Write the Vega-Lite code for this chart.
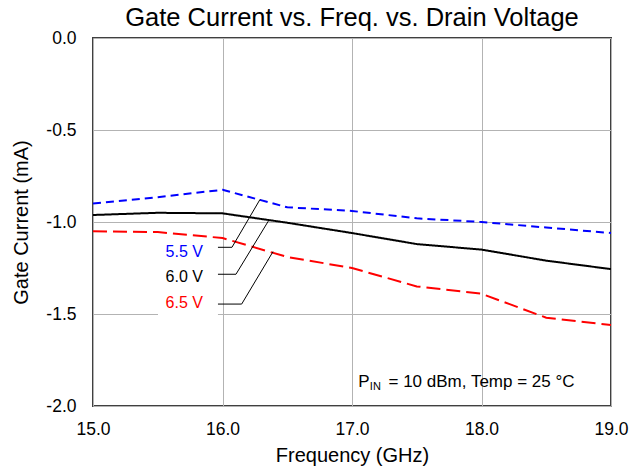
{
  "$schema": "https://vega.github.io/schema/vega-lite/v6.json",
  "width": 518,
  "height": 368,
  "autosize": "none",
  "padding": {"left": 93, "top": 38, "right": 31, "bottom": 61},
  "background": "white",
  "config": {
    "font": "Liberation Sans",
    "view": {"stroke": "#404040", "strokeWidth": 2},
    "axis": {
      "domain": false,
      "ticks": false,
      "grid": true,
      "gridColor": "#b3b3b3",
      "gridWidth": 1,
      "labelFont": "Liberation Sans",
      "labelFontSize": 17.5,
      "labelColor": "#000000",
      "titleFont": "Liberation Sans",
      "titleFontSize": 20,
      "titleFontWeight": "normal",
      "titleColor": "#000000"
    }
  },
  "title": {
    "text": "Gate Current vs. Freq. vs. Drain Voltage",
    "fontSize": 25.5,
    "fontWeight": "normal",
    "font": "Liberation Sans",
    "color": "#000000",
    "anchor": "middle",
    "offset": -2
  },
  "datasets": {
    "series": [
      {"freq": 15.0, "current": -0.90, "vd": "5.5 V"},
      {"freq": 15.5, "current": -0.865, "vd": "5.5 V"},
      {"freq": 16.0, "current": -0.825, "vd": "5.5 V"},
      {"freq": 16.5, "current": -0.92, "vd": "5.5 V"},
      {"freq": 17.0, "current": -0.94, "vd": "5.5 V"},
      {"freq": 17.5, "current": -0.98, "vd": "5.5 V"},
      {"freq": 18.0, "current": -1.0, "vd": "5.5 V"},
      {"freq": 18.5, "current": -1.03, "vd": "5.5 V"},
      {"freq": 19.0, "current": -1.06, "vd": "5.5 V"},
      {"freq": 15.0, "current": -0.962, "vd": "6.0 V"},
      {"freq": 15.5, "current": -0.95, "vd": "6.0 V"},
      {"freq": 16.0, "current": -0.953, "vd": "6.0 V"},
      {"freq": 16.5, "current": -1.004, "vd": "6.0 V"},
      {"freq": 17.0, "current": -1.06, "vd": "6.0 V"},
      {"freq": 17.5, "current": -1.12, "vd": "6.0 V"},
      {"freq": 18.0, "current": -1.15, "vd": "6.0 V"},
      {"freq": 18.5, "current": -1.21, "vd": "6.0 V"},
      {"freq": 19.0, "current": -1.256, "vd": "6.0 V"},
      {"freq": 15.0, "current": -1.05, "vd": "6.5 V"},
      {"freq": 15.5, "current": -1.055, "vd": "6.5 V"},
      {"freq": 16.0, "current": -1.087, "vd": "6.5 V"},
      {"freq": 16.5, "current": -1.19, "vd": "6.5 V"},
      {"freq": 17.0, "current": -1.25, "vd": "6.5 V"},
      {"freq": 17.5, "current": -1.35, "vd": "6.5 V"},
      {"freq": 18.0, "current": -1.39, "vd": "6.5 V"},
      {"freq": 18.5, "current": -1.52, "vd": "6.5 V"},
      {"freq": 19.0, "current": -1.56, "vd": "6.5 V"}
    ],
    "leaders": [
      {"freq": 15.965, "current": -1.1375, "vd": "5.5 V", "o": 1},
      {"freq": 16.073, "current": -1.1375, "vd": "5.5 V", "o": 2},
      {"freq": 16.290, "current": -0.877, "vd": "5.5 V", "o": 3},
      {"freq": 15.965, "current": -1.284, "vd": "6.0 V", "o": 1},
      {"freq": 16.104, "current": -1.284, "vd": "6.0 V", "o": 2},
      {"freq": 16.354, "current": -0.995, "vd": "6.0 V", "o": 3},
      {"freq": 15.965, "current": -1.446, "vd": "6.5 V", "o": 1},
      {"freq": 16.148, "current": -1.446, "vd": "6.5 V", "o": 2},
      {"freq": 16.390, "current": -1.161, "vd": "6.5 V", "o": 3}
    ],
    "labels": [
      {"freq": 15.849, "current": -1.161, "vd": "5.5 V"},
      {"freq": 15.849, "current": -1.297, "vd": "6.0 V"},
      {"freq": 15.849, "current": -1.439, "vd": "6.5 V"}
    ],
    "box": [
      {"x1": 15.502, "x2": 15.965, "y1": -1.10, "y2": -1.52}
    ],
    "note": [
      {"freq": 17.048, "current": -1.868, "part": "P", "size": "big"},
      {"freq": 17.138, "current": -1.895, "part": "IN", "size": "small"},
      {"freq": 17.282, "current": -1.868, "part": "= 10 dBm, Temp = 25 °C", "size": "big"}
    ]
  },
  "layer": [
    {
      "data": {"name": "box"},
      "mark": {"type": "rect", "fill": "white", "stroke": null},
      "encoding": {
        "x": {"field": "x1", "type": "quantitative", "scale": {"domain": [15, 19]}},
        "x2": {"field": "x2"},
        "y": {"field": "y1", "type": "quantitative", "scale": {"domain": [-2, 0]}},
        "y2": {"field": "y2"}
      }
    },
    {
      "data": {"name": "series"},
      "mark": {"type": "line", "strokeWidth": 2, "clip": true},
      "encoding": {
        "x": {
          "field": "freq", "type": "quantitative",
          "scale": {"domain": [15, 19], "nice": false, "zero": false},
          "axis": {"values": [15, 16, 17, 18, 19], "format": ".1f", "labelPadding": 14, "labelFlush": false, "title": "Frequency (GHz)", "titlePadding": 8}
        },
        "y": {
          "field": "current", "type": "quantitative",
          "scale": {"domain": [-2, 0], "nice": false, "zero": false},
          "axis": {"values": [-2, -1.5, -1, -0.5, 0], "labelExpr": "replace(format(datum.value, '.1f'), '\u2212', '-')", "labelPadding": 17, "title": "Gate Current (mA)", "titlePadding": 14}
        },
        "color": {"field": "vd", "type": "nominal", "scale": {"domain": ["5.5 V", "6.0 V", "6.5 V"], "range": ["#0000ff", "#000000", "#ff0000"]}, "legend": null},
        "strokeDash": {"field": "vd", "type": "nominal", "scale": {"domain": ["5.5 V", "6.0 V", "6.5 V"], "range": [[8, 5], [1, 0], [14, 6]]}, "legend": null}
      }
    },
    {
      "data": {"name": "leaders"},
      "mark": {"type": "line", "strokeWidth": 1, "color": "#000000"},
      "encoding": {
        "x": {"field": "freq", "type": "quantitative"},
        "y": {"field": "current", "type": "quantitative"},
        "detail": {"field": "vd"},
        "order": {"field": "o"}
      }
    },
    {
      "data": {"name": "labels"},
      "mark": {"type": "text", "align": "right", "baseline": "middle", "fontSize": 16, "font": "Liberation Sans"},
      "encoding": {
        "x": {"field": "freq", "type": "quantitative"},
        "y": {"field": "current", "type": "quantitative"},
        "text": {"field": "vd"},
        "color": {"field": "vd", "type": "nominal", "legend": null}
      }
    },
    {
      "data": {"name": "note"},
      "mark": {"type": "text", "align": "left", "baseline": "middle", "font": "Liberation Sans", "color": "#000000"},
      "encoding": {
        "x": {"field": "freq", "type": "quantitative"},
        "y": {"field": "current", "type": "quantitative"},
        "text": {"field": "part"},
        "size": {"field": "size", "type": "nominal", "scale": {"domain": ["big", "small"], "range": [17, 11]}, "legend": null}
      }
    }
  ]
}
